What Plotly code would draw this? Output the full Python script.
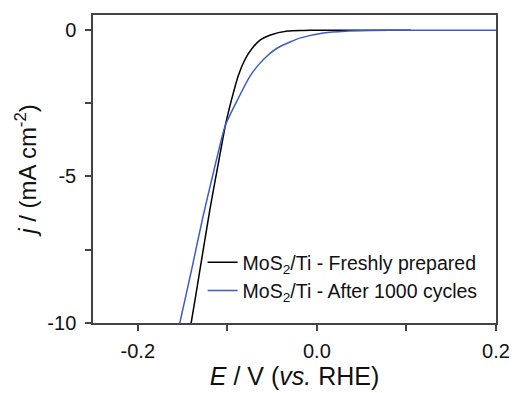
import plotly.graph_objects as go

# Data (E in V vs. RHE, j in mA cm^-2)
E_fresh = [-0.143, -0.1404, -0.130, -0.1196, -0.110, -0.1021, -0.095, -0.0876, -0.080,
           -0.072, -0.0631, -0.0519, -0.0329, -0.015, 0.0, 0.05, 0.105]
j_fresh = [-10.4, -10.0, -8.08, -6.15, -4.55, -3.25, -2.35, -1.55, -1.0,
           -0.625, -0.35, -0.18, -0.045, -0.025, -0.02, -0.02, -0.02]

E_after = [-0.156, -0.1531, -0.140, -0.127, -0.115, -0.1021, -0.0876, -0.075, -0.0652,
           -0.055, -0.0441, -0.030, -0.0184, 0.0073, 0.032, 0.06, 0.1, 0.2]
j_after = [-10.4, -10.0, -8.2, -6.35, -4.8, -3.25, -2.33, -1.6, -1.2,
           -0.88, -0.625, -0.42, -0.28, -0.11, -0.05, -0.03, -0.02, -0.02]

names = ["MoS<sub>2</sub>/Ti - Freshly prepared", "MoS<sub>2</sub>/Ti - After 1000 cycles"]

x_tickvals = [-0.2, 0.0, 0.2]
x_ticktext = ["-0.2", "0.0", "0.2"]
x_minor = [-0.1, 0.1]
y_tickvals = [-10, -5, 0]
y_ticktext = ["-10", "-5", "0"]
y_minor = [-7.5, -2.5]

FONT = "Liberation Sans, Arial, sans-serif"

fig = go.Figure()
fig.add_trace(go.Scatter(x=E_fresh, y=j_fresh, mode="lines", name=names[0],
                         line=dict(color="#000000", width=1.5, shape="spline", smoothing=0.6)))
fig.add_trace(go.Scatter(x=E_after, y=j_after, mode="lines", name=names[1],
                         line=dict(color="#3b5cc4", width=1.5, shape="spline", smoothing=0.6)))

axis_common = dict(showline=True, linecolor="#444444", linewidth=1.5, mirror=True,
                   ticks="outside", ticklen=6, tickwidth=1.5, tickcolor="#444444",
                   showgrid=False, zeroline=False,
                   tickfont=dict(family=FONT, size=20, color="#111111"))

fig.update_xaxes(range=[-0.25, 0.2], tickmode="array", tickvals=x_tickvals, ticktext=x_ticktext,
                 minor=dict(tickmode="array", tickvals=x_minor, ticks="outside", ticklen=6,
                            tickwidth=1.5, tickcolor="#444444", showgrid=False),
                 ticklabelstandoff=3,
                 title=dict(text="<i>E</i> / V (<i>vs.</i> RHE)",
                            font=dict(family=FONT, size=25, color="#111111"), standoff=4),
                 **axis_common)
fig.update_yaxes(range=[-10, 0.5], tickmode="array", tickvals=y_tickvals, ticktext=y_ticktext,
                 minor=dict(tickmode="array", tickvals=y_minor, ticks="outside", ticklen=6,
                            tickwidth=1.5, tickcolor="#444444", showgrid=False),
                 ticklabelstandoff=5,
                 title=dict(text="<i>j</i> / (mA cm<sup>-2</sup>)",
                            font=dict(family=FONT, size=24, color="#111111"), standoff=4),
                 **axis_common)

fig.update_layout(
    width=515, height=393,
    margin=dict(l=93, r=19, t=15, b=70, autoexpand=False),
    paper_bgcolor="white", plot_bgcolor="white",
    showlegend=True,
    legend=dict(x=0.272, y=0.042, xanchor="left", yanchor="bottom",
                bgcolor="rgba(0,0,0,0)", borderwidth=0,
                font=dict(family=FONT, size=19.5, color="#111111")),
)

fig.write_html("out.html")
